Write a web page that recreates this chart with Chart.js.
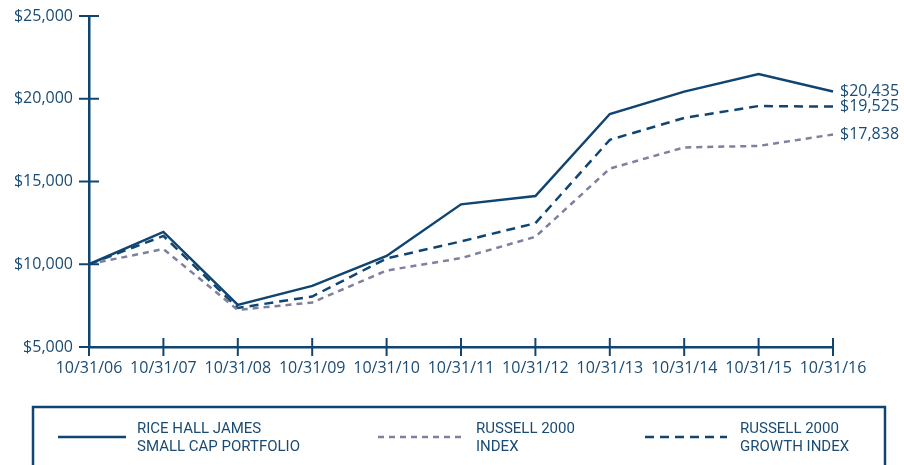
<!DOCTYPE html>
<html>
<head>
<meta charset="utf-8">
<script src="https://cdn.jsdelivr.net/npm/chart.js@4"></script>
<style>
  html, body { margin: 0; padding: 0; background: #fff; }
  #wrap { width: 904px; height: 465px; position: relative; }
</style>
</head>
<body>
<div id="wrap"><canvas id="lineChart"></canvas></div>
<script>
// dates on the x axis
const dates = ['10/31/06', '10/31/07', '10/31/08', '10/31/09', '10/31/10', '10/31/11', '10/31/12', '10/31/13', '10/31/14', '10/31/15', '10/31/16']

// growth of $10,000
const portfolio = [10000, 11950, 7540, 8690, 10500, 13620, 14120, 19080, 20430, 21500, 20435]
const russell2000 = [10000, 10920, 7240, 7690, 9620, 10370, 11660, 15780, 17060, 17150, 17838]
const russellGrowth = [10000, 11710, 7360, 8050, 10350, 11380, 12480, 17520, 18840, 19560, 19525]

const seriesNames = [
    ['RICE HALL JAMES', 'SMALL CAP PORTFOLIO'],
    ['RUSSELL 2000', 'INDEX'],
    ['RUSSELL 2000', 'GROWTH INDEX']
]

const navy = '#0f4570'
const grey = '#7d809f'
const textColor = '#1a4b72'
const tickFont = { family: 'Open Sans', size: 16 }

function money(v) {
    return '$' + Number(v).toLocaleString('en-US')
}

// tick marks that cross both axes
const crossTicks = {
    id: 'crossTicks',
    afterDraw(chart) {
        const ctx = chart.ctx
        const x = chart.scales.x
        const y = chart.scales.y
        const area = chart.chartArea
        ctx.save()
        ctx.strokeStyle = navy
        ctx.lineWidth = 2
        y.ticks.forEach((t, i) => {
            let py = y.getPixelForTick(i)
            ctx.beginPath()
            ctx.moveTo(area.left - 10, py)
            ctx.lineTo(area.left + 10, py)
            ctx.stroke()
        })
        x.ticks.forEach((t, i) => {
            let px = x.getPixelForTick(i)
            ctx.beginPath()
            ctx.moveTo(px, area.bottom - 9)
            ctx.lineTo(px, area.bottom + 9)
            ctx.stroke()
        })
        ctx.restore()
    }
}

// final values to the right of each line
const endLabels = {
    id: 'endLabels',
    afterDatasetsDraw(chart) {
        const ctx = chart.ctx
        ctx.save()
        ctx.font = '16px "Open Sans"'
        ctx.fillStyle = textColor
        ctx.textBaseline = 'middle'
        chart.data.datasets.forEach((ds, i) => {
            let meta = chart.getDatasetMeta(i)
            let last = meta.data[meta.data.length - 1]
            ctx.fillText(money(ds.data[ds.data.length - 1]), last.x + 7, last.y)
        })
        ctx.restore()
    }
}

// boxed legend under the chart
const boxLegend = {
    id: 'boxLegend',
    afterDraw(chart) {
        const ctx = chart.ctx
        ctx.save()
        ctx.strokeStyle = navy
        ctx.lineWidth = 2.5
        ctx.strokeRect(33, 407, 852, 70)

        const items = [
            { x1: 58, x2: 126, tx: 137 },
            { x1: 378, x2: 462, tx: 476 },
            { x1: 645, x2: 727, tx: 740 }
        ]
        chart.data.datasets.forEach((ds, i) => {
            let it = items[i]
            ctx.strokeStyle = ds.borderColor
            ctx.lineWidth = ds.borderWidth
            ctx.setLineDash(ds.borderDash || [])
            ctx.beginPath()
            ctx.moveTo(it.x1, 437)
            ctx.lineTo(it.x2, 437)
            ctx.stroke()
            ctx.setLineDash([])
            ctx.fillStyle = textColor
            ctx.font = '15px Roboto'
            ctx.textBaseline = 'middle'
            ctx.fillText(seriesNames[i][0], it.tx, 429)
            ctx.fillText(seriesNames[i][1], it.tx, 447)
        })
        ctx.restore()
    }
}

document.addEventListener('DOMContentLoaded', function() {
    let lineData = {
        labels: dates,
        datasets: [{
            label: seriesNames[0].join(' '),
            data: portfolio,
            borderColor: navy,
            borderWidth: 2.5,
            pointRadius: 0,
            tension: 0
        },
        {
            label: seriesNames[1].join(' '),
            data: russell2000,
            borderColor: grey,
            borderWidth: 2.5,
            borderDash: [6, 5],
            pointRadius: 0,
            tension: 0
        },
        {
            label: seriesNames[2].join(' '),
            data: russellGrowth,
            borderColor: navy,
            borderWidth: 2.5,
            borderDash: [9, 6],
            pointRadius: 0,
            tension: 0
        }]
    }

    let lineOptions = {
        responsive: true,
        maintainAspectRatio: false,
        animation: false,
        layout: {
            padding: { left: 0, right: 71, top: 16, bottom: 88 }
        },
        plugins: {
            legend: { display: false },
            tooltip: { enabled: false }
        },
        scales: {
            x: {
                offset: false,
                grid: { display: false, drawTicks: false },
                border: { color: navy, width: 2.5 },
                ticks: {
                    color: textColor,
                    font: tickFont,
                    padding: 12,
                    maxRotation: 0,
                    autoSkip: false
                },
                afterFit: s => { s.height = 30; s.paddingLeft = 0; s.paddingRight = 0 }
            },
            y: {
                min: 5000,
                max: 25000,
                grid: { display: false, drawTicks: false },
                border: { color: navy, width: 2.5 },
                ticks: {
                    stepSize: 5000,
                    color: textColor,
                    font: tickFont,
                    padding: 16,
                    callback: v => money(v)
                },
                afterFit: s => { s.width = 89; s.paddingTop = 0; s.paddingBottom = 0 }
            }
        }
    }

    let lineChart = new Chart(document.getElementById('lineChart'), {
        type: 'line',
        data: lineData,
        options: lineOptions,
        plugins: [crossTicks, endLabels, boxLegend]
    })
})
</script>
</body>
</html>
